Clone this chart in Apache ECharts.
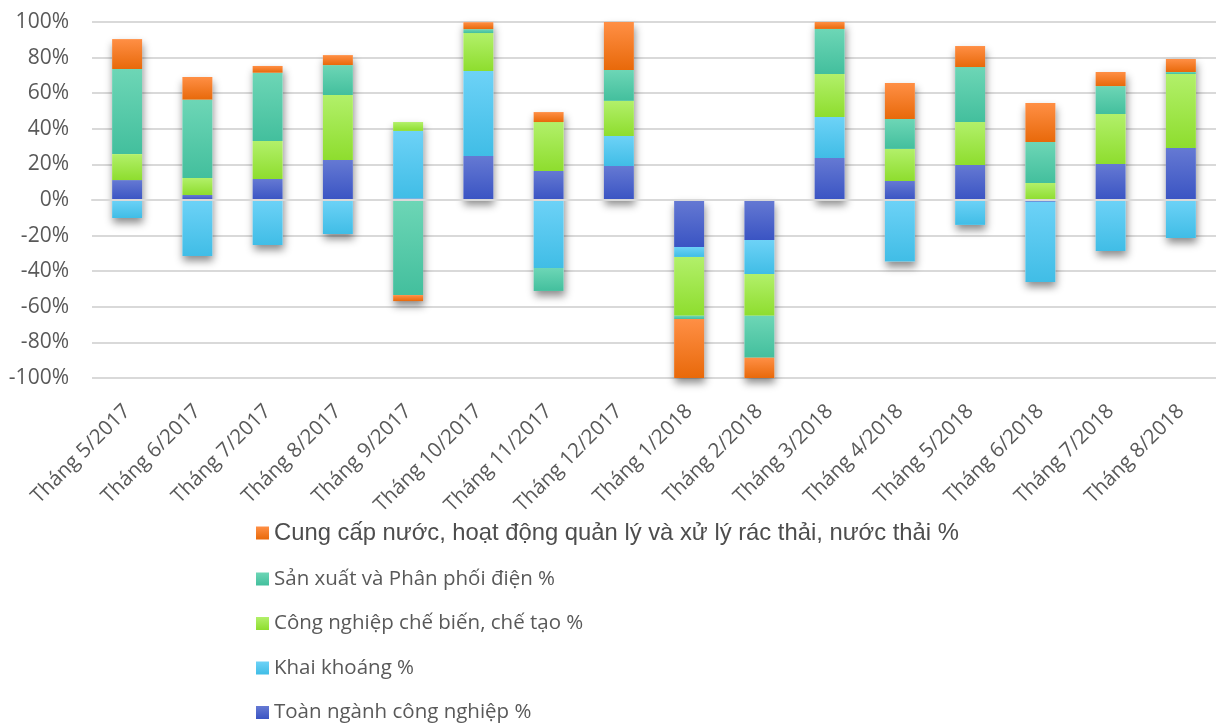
<!DOCTYPE html>
<html>
<head>
<meta charset="utf-8">
<script src="https://cdn.jsdelivr.net/npm/echarts@6/dist/echarts.min.js"></script>
<style>
html,body{margin:0;padding:0;background:#fff;}
#chart{width:1216px;height:724px;}
</style>
</head>
<body>
<div id="chart"></div>
<script>
const categories = ['Tháng 5/2017','Tháng 6/2017','Tháng 7/2017','Tháng 8/2017','Tháng 9/2017','Tháng 10/2017','Tháng 11/2017','Tháng 12/2017','Tháng 1/2018','Tháng 2/2018','Tháng 3/2018','Tháng 4/2018','Tháng 5/2018','Tháng 6/2018','Tháng 7/2018','Tháng 8/2018'];
const seriesNames = ['Toàn ngành công nghiệp %','Khai khoáng %','Công nghiệp chế biến, chế tạo %','Sản xuất và Phân phối điện %','Cung cấp nước, hoạt động quản lý và xử lý rác thải, nước thải %'];
const toanNganh = [11.2, 2.8, 11.8, 22.5, 0.9, 24.7, 16.3, 19.1, -26.4, -22.5, 23.6, 10.7, 19.7, -1.0, 20.2, 29.2];
const khaiKhoang = [-10.1, -31.5, -25.3, -19.1, 37.9, 47.8, -38.2, 16.9, -5.6, -19.1, 23.0, -34.6, -14.0, -45.1, -28.7, -21.3];
const cheBien = [14.6, 9.6, 21.3, 36.5, 5.0, 21.3, 27.5, 19.7, -33.0, -23.4, 24.2, 18.0, 24.1, 9.6, 28.1, 41.6];
const dien = [47.8, 44.0, 38.4, 16.8, -53.4, 2.2, -12.9, 17.4, -1.9, -23.6, 25.3, 16.8, 30.9, 23.0, 15.7, 1.1];
const nuoc = [16.8, 12.7, 3.8, 5.6, -3.4, 3.9, 5.6, 27.0, -33.1, -11.4, 3.9, 20.2, 11.8, 21.9, 7.9, 7.3];
const yTicks = [-100, 100, 20];

const allSeries = [toanNganh, khaiKhoang, cheBien, dien, nuoc];
const colors = [
  ['#6579D3', '#3A54C3'],
  ['#6DD2F7', '#40BDE6'],
  ['#B2F06A', '#8EDD2E'],
  ['#6DD6B6', '#43BF9D'],
  ['#FF8F45', '#E8690A']
];
function grad(c) {
  return new echarts.graphic.LinearGradient(0, 0, 0, 1, [
    {offset: 0, color: c[0]}, {offset: 1, color: c[1]}
  ]);
}
// extent of each stack (for drop shadow beneath the whole column)
const extent = categories.map((c, i) => {
  let pos = 0, neg = 0;
  allSeries.forEach(s => { if (s[i] >= 0) pos += s[i]; else neg += s[i]; });
  return [i, Math.max(neg, yTicks[0]), Math.min(pos, yTicks[1])];
});

const BW = 30;
const chart = echarts.init(document.getElementById('chart'), null, {renderer: 'canvas'});
const series = seriesNames.map((name, k) => ({
  name: name,
  type: 'bar',
  stack: 'total',
  barWidth: BW,
  z: 2,
  data: allSeries[k],
  itemStyle: {color: grad(colors[k])},
  emphasis: {disabled: true}
}));
series.push({
  type: 'custom',
  z: 1,
  silent: true,
  data: extent,
  renderItem: function (params, api) {
    const x = api.coord([api.value(0), 0])[0];
    const y1 = api.coord([api.value(0), api.value(2)])[1];
    const y2 = api.coord([api.value(0), api.value(1)])[1];
    return {
      type: 'rect',
      shape: {x: x - BW / 2, y: y1, width: BW, height: y2 - y1},
      style: {fill: '#ffffff', shadowBlur: 8, shadowOffsetY: 5, shadowOffsetX: 1, shadowColor: 'rgba(0,0,0,0.45)'}
    };
  }
});

const legendData = seriesNames.slice().reverse();
chart.setOption({
  animation: false,
  grid: {left: 92, right: 0, top: 22, bottom: 346, containLabel: false},
  legend: {
    orient: 'vertical',
    left: 251,
    top: 516,
    height: 260,
    itemWidth: 13,
    itemHeight: 13,
    itemGap: 23.5,
    icon: 'rect',
    data: legendData,
    formatter: function (name) {
      return name === legendData[0] ? '{big|' + name + '}' : '{small|' + name + '}';
    },
    textStyle: {
      color: '#595959',
      rich: {
        big: {fontFamily: 'Liberation Sans', fontSize: 23.8, lineHeight: 24, color: '#4d4d4d'},
        small: {fontFamily: 'Open Sans', fontSize: 20.5, lineHeight: 24, color: '#595959'}
      }
    }
  },
  xAxis: {
    type: 'category',
    data: categories,
    z: 3,
    axisTick: {show: false},
    axisLine: {show: true, onZero: true, lineStyle: {color: '#d9d9d9', width: 2}},
    axisLabel: {
      rotate: 45,
      interval: 0,
      margin: 30,
      color: '#595959',
      fontFamily: 'Open Sans',
      fontSize: 20.5
    }
  },
  yAxis: {
    type: 'value',
    min: yTicks[0],
    max: yTicks[1],
    interval: yTicks[2],
    axisLine: {show: false},
    axisTick: {show: false},
    axisLabel: {
      formatter: '{value}%',
      color: '#595959',
      fontFamily: 'Open Sans',
      fontSize: 21,
      margin: 23
    },
    splitLine: {lineStyle: {color: '#d9d9d9', width: 2}}
  },
  series: series
});
</script>
</body>
</html>
